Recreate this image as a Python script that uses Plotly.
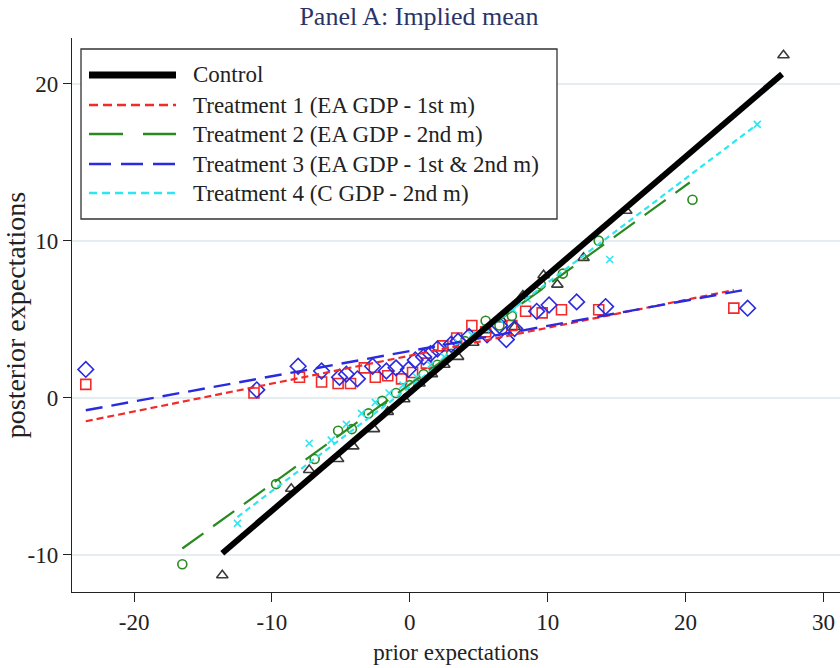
import plotly.graph_objects as go

# ---------------- data ----------------
series_names = [
    "Control",
    "Treatment 1 (EA GDP - 1st m)",
    "Treatment 2 (EA GDP - 2nd m)",
    "Treatment 3 (EA GDP - 1st & 2nd m)",
    "Treatment 4 (C GDP - 2nd m)",
]

control_x = [-13.6, -8.6, -7.3, -5.2, -4.1, -2.6, -1.6, -0.4, 0.7, 1.6, 2.5, 3.5, 4.6, 5.6, 6.6, 7.6, 8.2, 9.7, 10.7, 12.6, 15.7, 27.1]
control_y = [-11.3, -5.8, -4.6, -3.9, -3.1, -2.0, -0.9, -0.1, 0.9, 1.5, 2.1, 2.6, 3.5, 4.3, 5.0, 4.5, 6.5, 7.8, 7.2, 8.9, 11.9, 21.8]

t1_x = [-23.5, -11.3, -8.0, -6.4, -5.2, -4.3, -3.3, -2.5, -1.6, -0.6, 0.2, 1.2, 2.4, 3.4, 4.5, 5.5, 7.4, 8.4, 9.6, 11.0, 13.7, 23.5]
t1_y = [0.85, 0.3, 1.3, 1.0, 0.9, 0.9, 1.9, 1.3, 1.4, 1.2, 1.6, 2.2, 3.3, 3.8, 4.6, 4.2, 4.6, 5.5, 5.4, 5.6, 5.6, 5.7]

t2_x = [-16.5, -9.7, -6.9, -5.2, -4.2, -3.0, -2.0, -1.0, 0.0, 1.0, 2.0, 3.0, 4.0, 5.5, 6.5, 7.4, 9.5, 11.1, 13.7, 20.5]
t2_y = [-10.6, -5.5, -3.9, -2.1, -2.0, -1.0, -0.2, 0.3, 0.8, 1.5, 2.1, 2.8, 3.6, 4.9, 4.6, 5.2, 7.2, 7.9, 10.0, 12.6]

t3_x = [-23.5, -11.1, -8.1, -6.4, -5.1, -4.6, -3.8, -2.7, -1.7, -1.0, -0.1, 0.4, 1.0, 1.5, 2.0, 3.0, 3.5, 4.3, 5.6, 6.5, 7.0, 7.6, 9.2, 10.1, 12.1, 14.2, 24.5]
t3_y = [1.8, 0.5, 2.0, 1.7, 1.3, 1.5, 1.2, 2.0, 1.7, 1.9, 1.8, 2.4, 2.6, 2.8, 3.1, 3.4, 3.6, 3.9, 4.0, 4.6, 3.7, 4.4, 5.5, 5.9, 6.1, 5.8, 5.7]

t4_x = [-12.5, -7.3, -5.7, -4.6, -3.5, -2.5, -1.5, -0.5, 0.5, 1.5, 2.5, 3.5, 4.5, 5.5, 6.5, 7.5, 8.5, 14.5, 25.2]
t4_y = [-8.0, -2.9, -2.7, -1.7, -1.0, -0.3, 0.3, 0.8, 1.3, 2.1, 2.6, 3.5, 4.0, 4.4, 5.0, 5.6, 6.3, 8.8, 17.4]

# fitted lines (endpoints)
fit_control_x = [-13.6, 27.0]
fit_control_y = [-9.9, 20.6]
fit_t1_x = [-23.5, 23.5]
fit_t1_y = [-1.5, 6.85]
fit_t2_x = [-16.5, 20.3]
fit_t2_y = [-9.6, 13.7]
fit_t3_x = [-23.5, 24.5]
fit_t3_y = [-0.8, 6.9]
fit_t4_x = [-12.5, 25.2]
fit_t4_y = [-7.6, 17.4]

x_ticks = [-20, -10, 0, 10, 20, 30]
y_ticks = [-10, 0, 10, 20]

# ---------------- styles ----------------
FONT = "Liberation Serif"
colors = ["#000000", "#f22a2a", "#2a8a22", "#2a2ae0", "#2ee6f0"]
marker_colors = ["#3a3a3a", "#f22a2a", "#2a8a22", "#2a2ae0", "#2ee6f0"]
symbols = ["triangle-up-open", "square-open", "circle-open", "diamond-open", "x-thin-open"]
msizes = [10, 10, 9, 12, 7]
dashes = ["solid", "7px,4px", "26px,12px", "17px,9px", "6px,4px"]
widths = [6, 2.2, 2.2, 2.4, 2.2]
leg_dashes = ["solid", "9px,5px", "34px,20px", "22px,10px", "8px,5px"]
leg_widths = [7, 2.4, 2.6, 2.6, 2.4]

pts = [(control_x, control_y), (t1_x, t1_y), (t2_x, t2_y), (t3_x, t3_y), (t4_x, t4_y)]
fits = [(fit_control_x, fit_control_y), (fit_t1_x, fit_t1_y), (fit_t2_x, fit_t2_y),
        (fit_t3_x, fit_t3_y), (fit_t4_x, fit_t4_y)]

fig = go.Figure()
for i, (xs, ys) in enumerate(pts):
    fig.add_trace(go.Scatter(
        x=xs, y=ys, mode="markers", showlegend=False,
        marker=dict(symbol=symbols[i], size=msizes[i], color=marker_colors[i],
                    line=dict(width=1.6, color=marker_colors[i])),
    ))
order = [1, 3, 2, 4, 0]
for i in order:
    xs, ys = fits[i]
    fig.add_trace(go.Scatter(
        x=xs, y=ys, mode="lines", showlegend=False, name=series_names[i],
        line=dict(color=colors[i], width=widths[i], dash=dashes[i]),
    ))

# ---------------- manual legend ----------------
L, R, T, B = 72, 840, 38, 592
W, H = R - L, B - T
def px(x):
    return (x - L) / W
def py(y):
    return (B - y) / H

shapes = [dict(type="rect", xref="paper", yref="paper",
               x0=px(81), x1=px(557), y0=py(219), y1=py(49),
               line=dict(color="#333333", width=1.3), fillcolor="white", layer="above")]
annotations = []
entry_y = [75, 105, 134, 164, 193]
for i, name in enumerate(series_names):
    shapes.append(dict(type="line", xref="paper", yref="paper",
                       x0=px(89), x1=px(176), y0=py(entry_y[i]), y1=py(entry_y[i]),
                       line=dict(color=colors[i], width=leg_widths[i], dash=leg_dashes[i]),
                       layer="above"))
    annotations.append(dict(text=name, xref="paper", yref="paper",
                            x=px(191), y=py(entry_y[i]), xanchor="left", yanchor="middle",
                            showarrow=False, font=dict(family=FONT, size=23, color="#222222")))

fig.update_layout(
    width=840, height=668,
    margin=dict(l=L, r=840 - R, t=T, b=668 - B, pad=0),
    paper_bgcolor="white", plot_bgcolor="white",
    title=dict(text="Panel A: Implied mean", x=px(455), xanchor="center",
               y=1 - 16 / 668, yanchor="middle",
               font=dict(family=FONT, size=26, color="#2a3468")),
    font=dict(family=FONT, size=22, color="#222222"),
    shapes=shapes, annotations=annotations, showlegend=False,
)
fig.update_xaxes(
    range=[-24.5, 31.2], tickvals=x_ticks, ticktext=[str(v) for v in x_ticks],
    showgrid=False, zeroline=False, showline=True, linecolor="#222222", linewidth=1.3,
    ticks="outside", ticklen=9, tickwidth=1.2, tickcolor="#222222",
    tickfont=dict(family=FONT, size=23),
    title=dict(text="prior expectations", font=dict(family=FONT, size=23), standoff=10),
)
fig.update_yaxes(
    range=[-12.37, 22.9], tickvals=y_ticks, ticktext=[str(v) for v in y_ticks],
    showgrid=True, gridcolor="#e4eef0", gridwidth=1.6, zeroline=False,
    showline=True, linecolor="#222222", linewidth=1.3,
    ticks="outside", ticklen=8, tickwidth=1.2, tickcolor="#222222",
    tickfont=dict(family=FONT, size=23),
    title=dict(text="posterior expectations", font=dict(family=FONT, size=28), standoff=2),
)

fig.write_html("out.html")
